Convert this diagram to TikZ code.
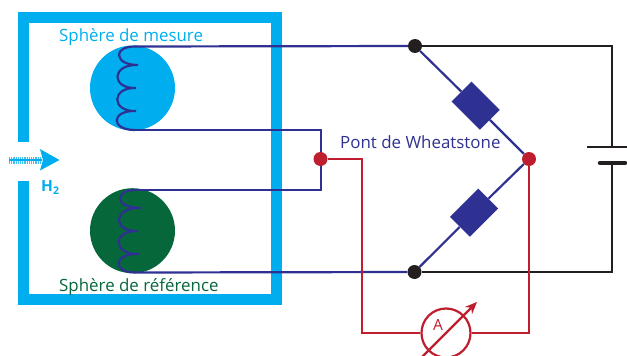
\documentclass[tikz,border=0pt]{standalone}
\usepackage{fontspec}
\setmainfont{Open Sans}
\usetikzlibrary{arrows.meta}
\definecolor{cyanH}{HTML}{00AEEF}
\definecolor{greenH}{HTML}{06673A}
\definecolor{blueH}{HTML}{2E3192}
\definecolor{redH}{HTML}{BE1E2D}
\definecolor{blackH}{HTML}{231F20}
\tikzset{
  wire/.style={blueH,line width=2.2pt},
  blackwire/.style={blackH,line width=2.2pt},
  redwire/.style={redH,line width=2.2pt},
  dot/.style={circle,fill=#1,inner sep=0pt,minimum size=14pt},
  sphere/.style={circle,fill=#1,inner sep=0pt,minimum size=85pt},
  resistor/.style={rectangle,fill=blueH,inner sep=0pt,minimum width=40pt,minimum height=28pt},
  label/.style={inner sep=0pt,anchor=base west,font=\fontsize{16.9pt}{19pt}\selectfont}
}
\begin{document}
\begin{tikzpicture}[x=1pt,y=-1pt]
    \useasboundingbox (0,0) rectangle (627,356);
    \clip (0,0) rectangle (627,356);
    \draw[cyanH,line width=11pt,miter limit=10] (23.5,142) -- (23.5,17.5) -- (276.5,17.5) -- (276.5,299.5) -- (23.5,299.5) -- (23.5,181);  % enceinte
    \node[sphere=cyanH] (mesure) at (132.5,88) {};
    \node[sphere=greenH] (reference) at (132.5,230.7) {};
    \node[label,text=cyanH] (tmesure) at (59,41) {Sphère de mesure};
    \node[label,text=greenH] (treference) at (59,291) {Sphère de référence};
    \node[label,text=blueH] (tpont) at (340,148) {Pont de Wheatstone};
    % gaz
    \coordinate (gazA) at (9,160);
    \coordinate (gazB) at (42,160);
    \draw[cyanH,line width=1.4pt] (gazA) -- (gazB);
    \draw[cyanH,line width=7pt,dash pattern=on 1.1pt off 1.1pt,opacity=.75] (gazA) -- (gazB);
    \fill[cyanH] (40,149) -- (59.5,160) -- (40,170.5) -- (43,160) -- cycle;
    \node[inner sep=0pt,anchor=base west,text=cyanH,font=\fontsize{15.5pt}{17pt}\selectfont\bfseries] (hdeux) at (41,191) {H\raisebox{-3pt}{\fontsize{10.5pt}{11pt}\selectfont 2}};
    % boucle entre les spheres
    \coordinate (mtop) at (135,46.5);
    \coordinate (mbot) at (135,130);
    \coordinate (rtop) at (135,190);
    \coordinate (rbot) at (135,272.5);
    \coordinate (loopA) at (321,130);
    \coordinate (loopB) at (321,190);
    \draw[wire,line join=miter] (mbot) -- (loopA) -- (loopB) -- (rtop);  % mesure -- reference
    % bobines
    \draw[wire] (mtop) .. controls (125,46.5) and (119,50) .. (119,55) .. controls (119,61) and (127,65) .. (138,65)
      .. controls (111,64) and (111,89) .. (136,88)
      .. controls (111,87) and (111,112) .. (136,111)
      .. controls (111,110) and (110,130) .. (mbot);
    \draw[wire] (rtop) .. controls (125,190) and (120,194) .. (120,199) .. controls (120,204) and (129,208) .. (141,208)
      .. controls (112,207) and (112,232) .. (138,231)
      .. controls (112,230) and (112,255) .. (139,254)
      .. controls (113,253) and (112,272.5) .. (rbot);
    % noeuds du pont
    \node[dot=redH] (left) at (320.5,159) {};
    \node[dot=redH] (right) at (529,159) {};
    \node[dot=blackH] (top) at (415,46) {};
    \node[dot=blackH] (bottom) at (414.5,272) {};
    \node[resistor,rotate=-45] (rone) at (475.7,105.7) {};
    \node[resistor,rotate=45] (rtwo) at (474,212.7) {};
    \draw[wire] (mtop) -- (top);  % mesure -- haut
    \draw[wire] (rbot) -- (bottom);  % reference -- bas
    \draw[wire] (top) -- (rone);
    \draw[wire] (rone) -- (right);
    \draw[wire] (bottom) -- (rtwo);
    \draw[wire] (rtwo) -- (right);
    % pile
    \coordinate (plateA) at (612,147);
    \coordinate (plateB) at (612,163);
    \coordinate (cornerA) at (612,46);
    \coordinate (cornerB) at (612,272);
    \draw[blackwire] (top) -- (cornerA) -- (plateA);  % haut -- pile
    \draw[blackwire] (plateB) -- (cornerB) -- (bottom);  % pile -- bas
    \draw[blackH,line width=2.2pt] (587,147) -- (627,147);
    \draw[blackH,line width=4.5pt,line cap=round] (600,163) -- (625,163);
    % ampermetre
    \node[circle,draw=redH,line width=2.2pt,inner sep=0pt,minimum size=49pt] (ampere) at (446,333) {};
    \node[inner sep=0pt,text=redH,font=\fontsize{15.5pt}{17pt}\selectfont] (lettreA) at (438,325) {A};
    \coordinate (redA) at (362,159);
    \coordinate (redB) at (362,333);
    \coordinate (redC) at (529,333);
    \coordinate (fleche) at (477,302);
    \coordinate (flecheB) at (422,357);
    \draw[redwire] (left) -- (redA) -- (redB) -- (ampere);  % gauche -- A
    \draw[redwire] (right) -- (redC) -- (ampere);  % droite -- A
    \draw[redH,line width=2.2pt,-{Stealth[length=12pt,width=10pt]}] (flecheB) -- (fleche);
\end{tikzpicture}
\end{document}
